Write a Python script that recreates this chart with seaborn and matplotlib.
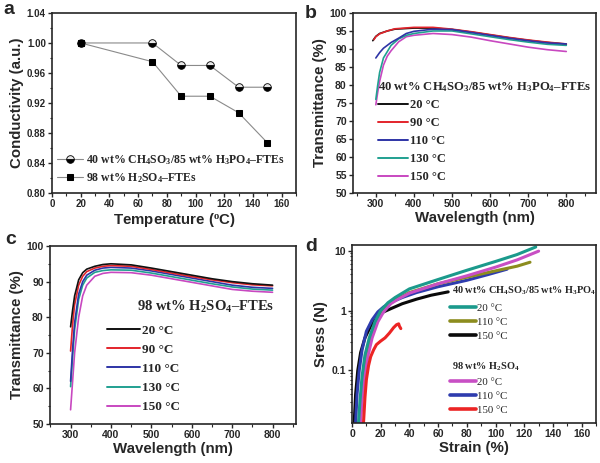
import seaborn as sns
import matplotlib.pyplot as plt
from matplotlib.lines import Line2D
from matplotlib.ticker import MultipleLocator, FuncFormatter, LogLocator

# ---- panel a: conductivity vs temperature
temp = [20, 70, 90, 110, 130, 150]
cond_mix = [1.0, 1.0, 0.970, 0.970, 0.941, 0.941]
cond_h2so4 = [1.0, 0.975, 0.929, 0.929, 0.907, 0.867]

# ---- panel b: transmittance, CH4SO3/H3PO4 FTEs
b_wl_20 = [292, 300, 310, 330, 350, 400, 450, 500, 550, 600, 650, 700, 750, 800]
b_t_20 = [92.3, 93.5, 94.3, 95.0, 95.5, 95.8, 95.8, 95.4, 94.7, 93.9, 93.1, 92.4, 91.8, 91.3]
b_wl_90 = [295, 300, 310, 330, 350, 400, 450, 500, 550, 600, 650, 700, 750, 800]
b_t_90 = [92.6, 93.4, 94.2, 95.0, 95.6, 96.0, 96.0, 95.5, 94.8, 94.0, 93.2, 92.5, 91.9, 91.4]
b_wl_110 = [300, 310, 320, 340, 360, 380, 400, 450, 500, 550, 600, 650, 700, 750, 800]
b_t_110 = [87.5, 89.0, 90.2, 91.8, 93.0, 94.3, 94.9, 95.5, 95.4, 94.6, 93.8, 93.0, 92.3, 91.7, 91.4]
b_wl_130 = [300, 305, 310, 320, 340, 360, 380, 400, 450, 500, 550, 600, 650, 700, 750, 800]
b_t_130 = [76.0, 80.0, 83.5, 87.5, 91.0, 92.8, 93.8, 94.3, 95.0, 95.0, 94.2, 93.4, 92.6, 91.9, 91.3, 91.0]
b_wl_150 = [300, 305, 310, 320, 330, 340, 360, 380, 400, 450, 500, 550, 600, 650, 700, 750, 800]
b_t_150 = [74.5, 78.0, 81.0, 85.5, 88.0, 89.5, 92.0, 93.4, 93.8, 94.3, 94.0, 93.3, 92.3, 91.4, 90.5, 89.8, 89.3]

# ---- panel c: transmittance, H2SO4 FTEs
c_wl = [300, 305, 310, 320, 330, 340, 360, 380, 400, 450, 500, 550, 600, 650, 700, 750, 800]
c_t_20 = [77.3, 82.0, 86.0, 90.5, 92.5, 93.5, 94.3, 94.8, 95.0, 94.7, 93.8, 92.8, 91.8, 90.8, 90.0, 89.4, 89.0]
c_t_90 = [70.5, 78.0, 83.5, 89.0, 91.5, 92.8, 93.8, 94.3, 94.5, 94.3, 93.4, 92.4, 91.4, 90.5, 89.7, 89.1, 88.8]
c_t_110 = [62.0, 71.0, 78.5, 86.5, 90.0, 91.8, 93.2, 93.8, 94.0, 93.8, 93.0, 92.0, 91.0, 90.0, 89.0, 88.4, 88.1]
c_t_130 = [60.5, 69.0, 76.5, 85.0, 89.0, 91.0, 92.6, 93.1, 93.3, 93.2, 92.4, 91.4, 90.4, 89.4, 88.5, 87.9, 87.6]
c_t_150 = [54.0, 62.0, 70.0, 80.0, 86.0, 89.0, 91.5, 92.3, 92.6, 92.5, 91.8, 90.8, 89.8, 88.8, 87.8, 87.3, 87.0]

# ---- panel d: stress-strain
d_strain_mix20 = [4.5, 5.5, 7, 9, 12, 16, 20, 25, 30, 40, 60, 80, 100, 115, 128]
d_stress_mix20 = [0.0133, 0.03, 0.08, 0.18, 0.35, 0.65, 1.0, 1.35, 1.65, 2.3, 3.3, 4.7, 6.6, 8.6, 11.5]
d_strain_mix110 = [5, 6, 7.5, 10, 13, 17, 21, 25, 30, 40, 60, 80, 100, 115, 124]
d_stress_mix110 = [0.0133, 0.03, 0.07, 0.17, 0.35, 0.62, 0.95, 1.25, 1.5, 2.0, 2.8, 3.6, 4.6, 5.5, 6.4]
d_strain_mix150 = [1.5, 2.5, 4, 6, 9, 13, 18, 22, 28, 35, 45, 55, 67]
d_stress_mix150 = [0.0133, 0.04, 0.1, 0.2, 0.35, 0.55, 0.8, 0.95, 1.1, 1.3, 1.55, 1.8, 2.05]
d_strain_h20 = [6, 7, 8.5, 11, 14, 18, 22, 27, 32, 40, 60, 80, 100, 115, 130]
d_stress_h20 = [0.0133, 0.03, 0.07, 0.17, 0.35, 0.65, 0.95, 1.3, 1.55, 1.95, 2.8, 3.8, 5.3, 7.0, 9.8]
d_strain_h110 = [2.5, 3.5, 5, 7, 10, 14, 18, 22, 28, 35, 45, 60, 80, 95, 108]
d_stress_h110 = [0.0133, 0.04, 0.1, 0.22, 0.45, 0.7, 0.95, 1.15, 1.4, 1.65, 2.0, 2.5, 3.2, 4.0, 4.9]
d_strain_h150 = [8, 9, 10, 11.5, 13, 15, 17, 20, 23, 26, 29, 31, 32.5, 33, 34]
d_stress_h150 = [0.0133, 0.035, 0.07, 0.12, 0.17, 0.22, 0.27, 0.31, 0.35, 0.42, 0.52, 0.58, 0.6, 0.55, 0.5]

temp_labels = ["20 °C", "90 °C", "110 °C", "130 °C", "150 °C"]
spec_colors = ["#111111", "#e3242b", "#2e34a6", "#20a090", "#c848c0"]

sns.set_theme(style="ticks")
plt.rcParams["font.family"] = ["Liberation Sans", "DejaVu Sans"]
plt.rcParams.update({
    "font.weight": "bold",
    "axes.labelweight": "bold",
    "axes.linewidth": 1.2,
    "xtick.direction": "out",
    "ytick.direction": "out",
    "xtick.major.size": 3,
    "ytick.major.size": 3,
    "xtick.minor.size": 1.8,
    "ytick.minor.size": 1.8,
    "xtick.major.width": 1.0,
    "ytick.major.width": 1.0,
    "xtick.minor.width": 0.8,
    "ytick.minor.width": 0.8,
    "xtick.labelsize": 7.5,
    "ytick.labelsize": 7.5,
    "axes.labelsize": 10.8,
    "xtick.major.pad": 1.5,
    "ytick.major.pad": 1.5,
    "mathtext.fontset": "custom",
    "mathtext.rm": "Liberation Serif:bold",
    "mathtext.bf": "Liberation Serif:bold",
    "mathtext.it": "Liberation Serif:bold",
})
SERIF = {"family": "Liberation Serif", "weight": "bold"}
SERIF_REG = {"family": "Liberation Serif", "weight": "normal"}

fig = plt.figure(figsize=(6, 4.63), dpi=100)
ax_a = fig.add_axes([0.0867, 0.5832, 0.4067, 0.3888])
ax_b = fig.add_axes([0.5883, 0.5832, 0.405, 0.3888])
ax_c = fig.add_axes([0.0833, 0.0842, 0.41, 0.3845])
ax_d = fig.add_axes([0.5867, 0.0864, 0.4067, 0.3844])

# ---------- a
sns.lineplot(x=temp, y=cond_mix, ax=ax_a, color="#8a8a8a", lw=0.8, marker="o",
             markersize=5.5, markerfacecolor="black", markerfacecoloralt="#e8e8e8",
             fillstyle="bottom", markeredgecolor="black", markeredgewidth=0.6,
             label="40 wt% CH$_4$SO$_3$/85 wt% H$_3$PO$_4$–FTEs")
sns.lineplot(x=temp, y=cond_h2so4, ax=ax_a, color="#8a8a8a", lw=0.8, marker="s",
             markersize=5, markerfacecolor="black", markeredgecolor="black",
             label="98 wt% H$_2$SO$_4$–FTEs")
ax_a.set_xlim(0, 170)
ax_a.set_ylim(0.80, 1.04)
ax_a.xaxis.set_major_locator(MultipleLocator(20))
ax_a.xaxis.set_minor_locator(MultipleLocator(10))
ax_a.yaxis.set_major_locator(MultipleLocator(0.04))
ax_a.yaxis.set_minor_locator(MultipleLocator(0.02))
ax_a.yaxis.set_major_formatter(FuncFormatter(lambda v, p: f"{v:.2f}"))
ax_a.tick_params(labelsize=7)
ax_a.set_xlabel(r"Temperature ($^{\mathrm{o}}$C)", labelpad=1)
ax_a.set_ylabel("Conductivity (a.u.)", labelpad=2)
ax_a.legend(loc="lower left", bbox_to_anchor=(0.0, 0.02), frameon=False,
            prop={**SERIF, "size": 8.5}, handlelength=2.2, handletextpad=0.3,
            labelspacing=0.35, borderpad=0.2, borderaxespad=0.2)

# ---------- b
b_series = [(b_wl_20, b_t_20), (b_wl_90, b_t_90), (b_wl_110, b_t_110),
            (b_wl_130, b_t_130), (b_wl_150, b_t_150)]
order_b = [0, 1, 4, 3, 2]
for i in order_b:
    wl, t = b_series[i]
    sns.lineplot(x=wl, y=t, ax=ax_b, color=spec_colors[i], lw=1.2, sort=False,
                 estimator=None)
ax_b.set_xlim(240, 878)
ax_b.set_ylim(50, 100)
ax_b.set_xticks([300, 400, 500, 600, 700, 800])
ax_b.xaxis.set_minor_locator(MultipleLocator(50))
ax_b.yaxis.set_major_locator(MultipleLocator(5))
ax_b.set_xlabel("Wavelength (nm)", labelpad=1)
ax_b.set_ylabel("Transmittance (%)", labelpad=2)
ax_b.text(0.103, 0.59, "40 wt% CH$_4$SO$_3$/85 wt% H$_3$PO$_4$–FTEs",
          transform=ax_b.transAxes, fontsize=9.1, fontdict=SERIF, va="center")
hb = [Line2D([], [], color=c, lw=1.4) for c in spec_colors]
ax_b.legend(hb, temp_labels, loc="upper left", bbox_to_anchor=(0.105, 0.52),
            frameon=False, prop={**SERIF, "size": 9}, handlelength=2.4,
            handletextpad=0.15, labelspacing=0.48, borderpad=0, borderaxespad=0)

# ---------- c
c_series = [c_t_20, c_t_90, c_t_110, c_t_130, c_t_150]
for i in [4, 3, 2, 1, 0]:
    sns.lineplot(x=c_wl, y=c_series[i], ax=ax_c, color=spec_colors[i], lw=1.2,
                 sort=False, estimator=None)
ax_c.set_xlim(249, 858)
ax_c.set_ylim(50, 100)
ax_c.set_xticks([300, 400, 500, 600, 700, 800])
ax_c.xaxis.set_minor_locator(MultipleLocator(50))
ax_c.yaxis.set_major_locator(MultipleLocator(10))
ax_c.yaxis.set_minor_locator(MultipleLocator(5))
ax_c.set_xlabel("Wavelength (nm)", labelpad=1)
ax_c.set_ylabel("Transmittance (%)", labelpad=2)
ax_c.text(0.355, 0.655, "98 wt% H$_2$SO$_4$–FTEs", transform=ax_c.transAxes,
          fontsize=10.5, fontdict=SERIF, va="center")
hc = [Line2D([], [], color=c, lw=1.4) for c in spec_colors]
ax_c.legend(hc, temp_labels, loc="upper left", bbox_to_anchor=(0.232, 0.56),
            frameon=False, prop={**SERIF, "size": 9.5}, handlelength=2.5,
            handletextpad=0.15, labelspacing=0.53, borderpad=0, borderaxespad=0)

# ---------- d
d_colors = {"mix20": "#1b9a8c", "mix110": "#8c8c1e", "mix150": "#0a0a0a",
            "h20": "#c84fc4", "h110": "#2e3cae", "h150": "#ec2424"}
d_series = [("mix150", d_strain_mix150, d_stress_mix150),
            ("h110", d_strain_h110, d_stress_h110),
            ("mix110", d_strain_mix110, d_stress_mix110),
            ("h20", d_strain_h20, d_stress_h20),
            ("h150", d_strain_h150, d_stress_h150),
            ("mix20", d_strain_mix20, d_stress_mix20)]
for key, xs, ys in d_series:
    sns.lineplot(x=xs, y=ys, ax=ax_d, color=d_colors[key], lw=2.2, sort=False,
                 estimator=None)
ax_d.set_yscale("log")
ax_d.set_xlim(0, 170)
ax_d.set_ylim(0.0133, 12.4)
ax_d.xaxis.set_major_locator(MultipleLocator(20))
ax_d.xaxis.set_minor_locator(MultipleLocator(10))
ax_d.yaxis.set_major_locator(LogLocator(base=10, numticks=10))
ax_d.yaxis.set_minor_locator(LogLocator(base=10, subs=range(2, 10), numticks=10))
ax_d.yaxis.set_major_formatter(FuncFormatter(lambda v, p: f"{v:g}"))
ax_d.yaxis.set_minor_formatter(FuncFormatter(lambda v, p: ""))
ax_d.set_xlabel("Strain (%)", labelpad=1)
ax_d.set_ylabel("Sress (N)", labelpad=2)
ax_d.text(0.41, 0.742, "40 wt% CH$_4$SO$_3$/85 wt% H$_3$PO$_4$",
          transform=ax_d.transAxes, fontsize=7.4, fontdict=SERIF, va="center")
hd1 = [Line2D([], [], color=d_colors[k], lw=2.6) for k in ["mix20", "mix110", "mix150"]]
leg1 = ax_d.legend(hd1, ["20 °C", "110 °C", "150 °C"], loc="upper left",
                   bbox_to_anchor=(0.40, 0.671), frameon=False,
                   prop={**SERIF_REG, "size": 7.8}, handlelength=2.4,
                   handletextpad=0.1, labelspacing=0.39, borderpad=0, borderaxespad=0)
ax_d.add_artist(leg1)
ax_d.text(0.41, 0.318, "98 wt% H$_2$SO$_4$", transform=ax_d.transAxes,
          fontsize=7.4, fontdict=SERIF, va="center")
hd2 = [Line2D([], [], color=d_colors[k], lw=2.6) for k in ["h20", "h110", "h150"]]
ax_d.legend(hd2, ["20 °C", "110 °C", "150 °C"], loc="upper left",
            bbox_to_anchor=(0.40, 0.255), frameon=False,
            prop={**SERIF_REG, "size": 7.8}, handlelength=2.4,
            handletextpad=0.1, labelspacing=0.39, borderpad=0, borderaxespad=0)

for ax in (ax_a, ax_b, ax_c, ax_d):
    ax.tick_params(top=False, right=False)
    for lab in ax.get_xticklabels() + ax.get_yticklabels():
        lab.set_fontweight("bold")

for letter, x, y in [("a", 0.005, 0.970), ("b", 0.508, 0.961),
                     ("c", 0.008, 0.473), ("d", 0.508, 0.458)]:
    fig.text(x, y, letter, fontsize=14, fontweight="bold", va="baseline")

fig.savefig("out.png", dpi=100)
